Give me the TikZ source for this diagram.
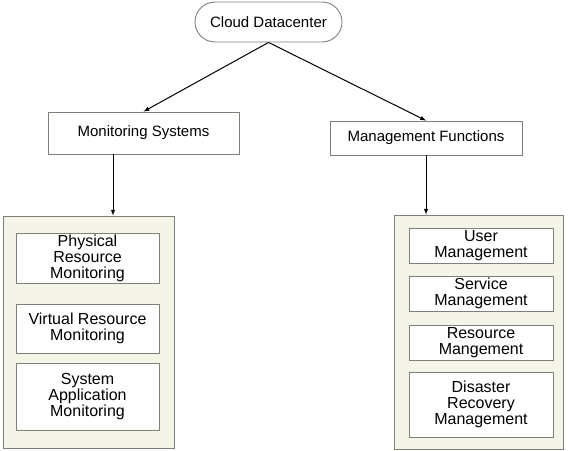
\documentclass[tikz,border=0pt]{standalone}
\usepackage{fontspec}
\setmainfont{Liberation Sans}
\usepackage{tikz}
\definecolor{panel}{RGB}{244,244,232}
\definecolor{edgegray}{RGB}{128,128,118}
\tikzstyle{box}=[rectangle,draw=edgegray,line width=0.9pt,fill=white,inner sep=0pt,align=center,font=\fontsize{15}{16}\selectfont]
\tikzstyle{item}=[box,font=\fontsize{16}{16}\selectfont]
\tikzstyle{group}=[rectangle,draw=edgegray,line width=0.9pt,fill=panel,inner sep=0pt]

\begin{document}
\begin{tikzpicture}[x=1pt,y=-1pt,>=latex]
		\useasboundingbox (0,0) rectangle (569,450);
		% top level
		\node[box,rounded corners=20pt,minimum width=147pt,minimum height=40pt] at (268.5, 22) (cloud) {Cloud Datacenter};
		\node[box,minimum width=191pt,minimum height=42pt] at (143.5, 133) (mon) {Monitoring Systems};
		\node[box,minimum width=192pt,minimum height=34pt] at (426, 138) (mgmt) {Management Functions};
		% panels
		\node[group,minimum width=171pt,minimum height=232pt] at (88.5, 332) (monpanel) {};
		\node[group,minimum width=169pt,minimum height=234pt] at (478.5, 332) (mgmtpanel) {};
		% monitoring items
		\node[item,minimum width=143pt,minimum height=50pt] at (87.5, 258) (phys) {Physical\\Resource\\Monitoring};
		\node[item,minimum width=143pt,minimum height=49pt] at (87.5, 328.5) (virt) {Virtual Resource\\Monitoring};
		\node[item,minimum width=143pt,minimum height=67pt] at (87.5, 396.5) (sysapp) {System\\Application\\Monitoring};
		% management items
		\node[item,minimum width=144pt,minimum height=35pt] at (481, 245.5) (user) {User\\Management};
		\node[item,minimum width=144pt,minimum height=35pt] at (481, 293.5) (service) {Service\\Management};
		\node[item,minimum width=144pt,minimum height=35pt] at (481, 342.5) (resource) {Resource\\Mangement};
		\node[item,minimum width=144pt,minimum height=65pt] at (481, 404.5) (disaster) {Disaster\\Recovery\\Management};
		\draw[->,line width=1pt] (cloud.south) -- (mon.north);
		\draw[->,line width=1pt] (cloud.south) -- (mgmt.north);
		\draw[->,line width=1pt] ([xshift=-30.5pt]mon.south) -- ([xshift=-30.5pt]mon.south |- monpanel.north);
		\draw[->,line width=1pt] (mgmt.south) -- (mgmt.south |- mgmtpanel.north);
\end{tikzpicture}
\end{document}
